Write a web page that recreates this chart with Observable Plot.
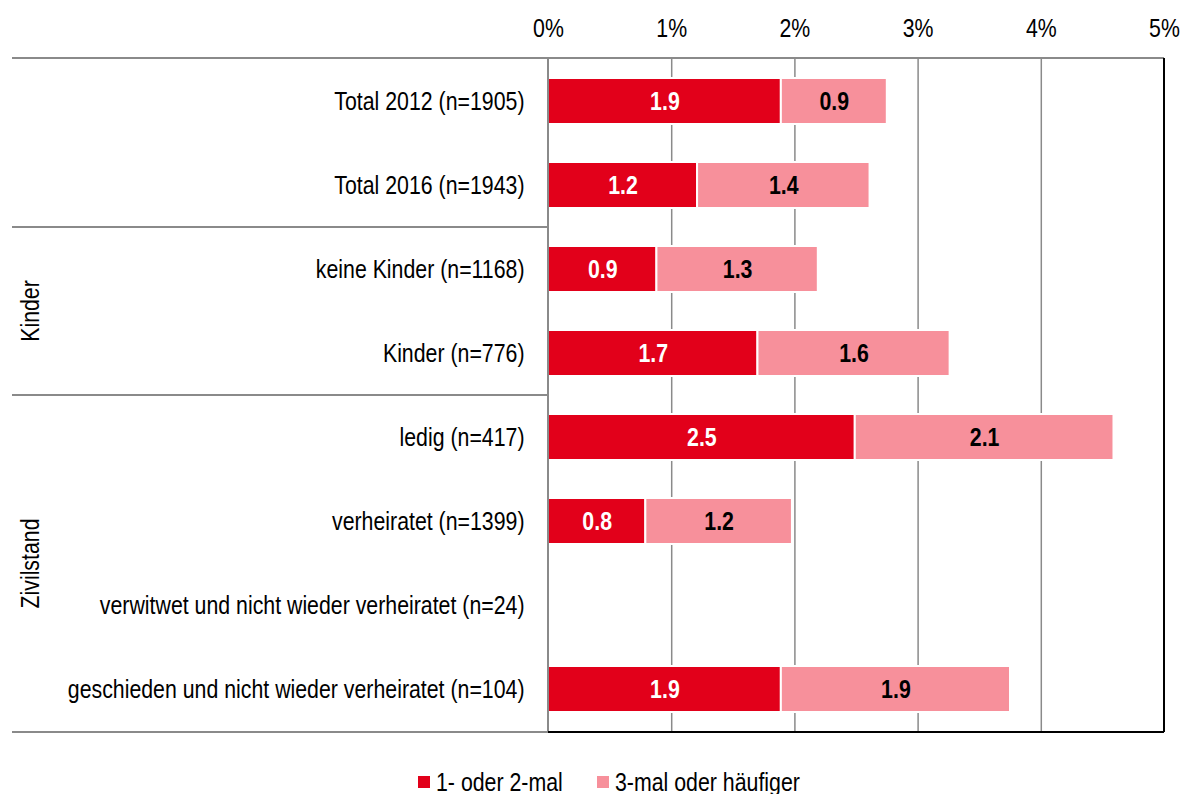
<!DOCTYPE html>
<html><head><meta charset="utf-8">
<script src="https://cdn.jsdelivr.net/npm/d3@7"></script>
<script src="https://cdn.jsdelivr.net/npm/@observablehq/plot@0.6"></script>
<style>
body{margin:0;background:#fff;overflow:hidden;font-family:"Liberation Sans",Arial,sans-serif;color:#000;}
#legend{position:relative;height:24px;margin-top:18px;font-size:26px;line-height:24px;}
#legend .sw{position:absolute;top:6px;width:12px;height:12px;}
#legend .lt{position:absolute;top:0;white-space:nowrap;transform:scaleX(0.82);transform-origin:left center;}
</style></head><body>
<div id="chart"></div>
<div id="legend"></div>
<script>
const categories = [
  "Total 2012 (n=1905)",
  "Total 2016 (n=1943)",
  "keine Kinder (n=1168)",
  "Kinder (n=776)",
  "ledig (n=417)",
  "verheiratet (n=1399)",
  "verwitwet und nicht wieder verheiratet (n=24)",
  "geschieden und nicht wieder verheiratet (n=104)"
];
const groupNames = ["Kinder", "Zivilstand"];
const groupFirst = ["keine Kinder (n=1168)", "ledig (n=417)"];
const groupLast = ["Kinder (n=776)", "geschieden und nicht wieder verheiratet (n=104)"];
const series = ["1- oder 2-mal", "3-mal oder häufiger"];
const onceOrTwice = [1.89, 1.21, 0.88, 1.70, 2.49, 0.79, 0, 1.89];
const threeOrMore = [0.86, 1.40, 1.31, 1.56, 2.10, 1.19, 0, 1.86];
const xTicks = [0, 1, 2, 3, 4, 5];
const colors = ["#E2001A", "#F7909B"];

const data = [];
categories.forEach((c, i) => {
  data.push({category: c, series: series[0], value: onceOrTwice[i]});
  data.push({category: c, series: series[1], value: threeOrMore[i]});
});
const labelOf = d => d.value > 0 ? d.value.toFixed(1) : "";
const FONT = '"Liberation Sans",Arial,sans-serif';
const NARROW = 0.82;

const chart = Plot.plot({
  width: 1182,
  height: 752,
  marginTop: 58,
  marginBottom: 20,
  marginLeft: 548,
  marginRight: 18,
  style: {fontFamily: FONT, fontSize: "26px", color: "#000", background: "#fff"},
  x: {domain: [0, 5], axis: "top", ticks: xTicks, tickFormat: d => d + "%", tickSize: 0, tickPadding: 22, label: null},
  y: {domain: categories, paddingInner: 0.45, paddingOuter: 0.225, tickSize: 0, tickPadding: 24, label: null},
  color: {domain: series, range: colors},
  marks: [
    Plot.ruleX(xTicks.filter(d => d > 0 && d < 5), {stroke: "#8a8a8a", strokeWidth: 1.5}),
    Plot.barX(data, Plot.stackX({x: "value", y: "category", fill: "series", z: "series", stroke: "white", strokeWidth: 2})),
    Plot.text(data, Plot.stackX({x: "value", y: "category", z: "series", text: d => d.series === series[0] ? labelOf(d) : "", fill: "white", fontWeight: "bold", fontSize: 26})),
    Plot.text(data, Plot.stackX({x: "value", y: "category", z: "series", text: d => d.series === series[1] ? labelOf(d) : "", fill: "black", fontWeight: "bold", fontSize: 26}))
  ]
});
document.getElementById("chart").appendChild(chart);

// frame, group separators and group labels, positioned from the plot's scales
const xs = chart.scale("x"), ys = chart.scale("y");
const [x0, x1] = xs.range;
const [yTop, yBottom] = ys.range;
const svg = d3.select(chart);
const g = svg.append("g");
const leftEdge = 12;
const line = (xa, ya, xb, yb, color) => g.append("line").attr("x1", xa).attr("y1", ya).attr("x2", xb).attr("y2", yb).attr("stroke", color).attr("stroke-width", 2);
const boundaryBefore = cat => {
  const i = categories.indexOf(cat);
  return i === 0 ? yTop : (ys.apply(categories[i - 1]) + ys.bandwidth + ys.apply(cat)) / 2;
};
const boundaryAfter = cat => {
  const i = categories.indexOf(cat);
  return i === categories.length - 1 ? yBottom : (ys.apply(cat) + ys.bandwidth + ys.apply(categories[i + 1])) / 2;
};
line(leftEdge, yTop, x1, yTop, "#8a8a8a");
line(x0, yTop, x0, yBottom, "#8a8a8a");
line(leftEdge, yBottom, x0, yBottom, "#8a8a8a");
line(x0, yBottom, x1, yBottom, "#000");
line(x1, yTop, x1, yBottom, "#000");
groupNames.forEach((name, i) => {
  const a = boundaryBefore(groupFirst[i]);
  const b = boundaryAfter(groupLast[i]);
  line(leftEdge, a, x0, a, "#8a8a8a");
  g.append("text").attr("transform", `translate(30,${(a + b) / 2}) rotate(-90)`)
    .attr("text-anchor", "middle").attr("dominant-baseline", "central")
    .attr("font-size", 26).attr("fill", "#000").text(name);
});

// narrow the type (the original uses a condensed face) around each text's own anchor
svg.selectAll("text").each(function () {
  const t = d3.select(this);
  const ax = parseFloat(t.attr("x"));
  const tr = t.attr("transform") || "";
  const s = isFinite(ax)
    ? ` translate(${ax},0) scale(${NARROW},1) translate(${-ax},0)`
    : ` scale(${NARROW},1)`;
  t.attr("transform", (tr + s).trim());
});

// legend
const legend = d3.select("#legend");
const swatchLeft = [418, 597];
series.forEach((s, i) => {
  legend.append("span").attr("class", "sw").style("left", swatchLeft[i] + "px").style("background", colors[i]);
  legend.append("span").attr("class", "lt").style("left", (swatchLeft[i] + 18) + "px").text(s);
});
</script>
</body></html>
